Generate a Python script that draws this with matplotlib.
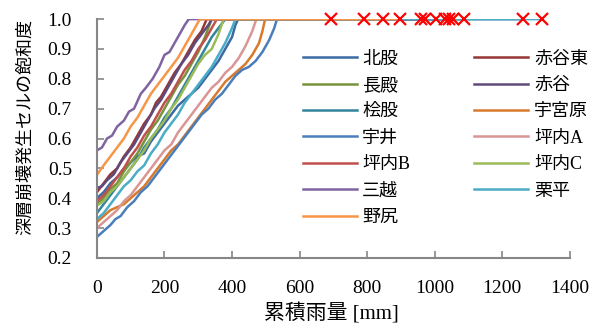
import matplotlib
matplotlib.use("Agg")
import matplotlib.pyplot as plt

plt.rcParams['font.family'] = ['Liberation Serif', 'Noto Sans CJK JP']

# series: cumulative rainfall [mm] vs saturation ratio
kitamata_x = [0, 20, 40, 60, 80, 100, 120, 140, 160, 180, 200, 220, 240, 260, 280, 300, 320, 340, 360, 380, 400, 410, 418, 1260]
kitamata_y = [0.40, 0.42, 0.45, 0.47, 0.50, 0.52, 0.54, 0.55, 0.59, 0.62, 0.65, 0.68, 0.71, 0.73, 0.75, 0.77, 0.80, 0.83, 0.86, 0.90, 0.94, 0.98, 1.0, 1.0]

akadanihigashi_x = [0, 20, 40, 60, 80, 100, 120, 140, 160, 175, 190, 210, 230, 250, 270, 290, 310, 325, 1043]
akadanihigashi_y = [0.42, 0.45, 0.48, 0.50, 0.54, 0.57, 0.61, 0.65, 0.68, 0.72, 0.74, 0.78, 0.82, 0.85, 0.89, 0.93, 0.96, 1.0, 1.0]

nagatono_x = [0, 20, 40, 60, 80, 100, 120, 140, 160, 180, 200, 220, 240, 260, 280, 300, 320, 340, 1005]
nagatono_y = [0.38, 0.40, 0.43, 0.45, 0.49, 0.52, 0.55, 0.59, 0.63, 0.66, 0.70, 0.74, 0.78, 0.81, 0.85, 0.89, 0.94, 1.0, 1.0]

akadani_x = [0, 15, 30, 50, 70, 90, 110, 130, 150, 170, 190, 210, 230, 250, 270, 290, 310, 330, 340, 960]
akadani_y = [0.434, 0.44, 0.46, 0.48, 0.52, 0.55, 0.58, 0.62, 0.66, 0.70, 0.73, 0.77, 0.81, 0.85, 0.88, 0.92, 0.95, 0.98, 1.0, 1.0]

hinokimata_x = [0, 20, 40, 60, 80, 100, 120, 140, 160, 180, 200, 220, 240, 260, 280, 300, 320, 340, 360, 380, 1088]
hinokimata_y = [0.35, 0.38, 0.41, 0.44, 0.47, 0.50, 0.53, 0.57, 0.60, 0.63, 0.67, 0.70, 0.74, 0.78, 0.82, 0.86, 0.90, 0.94, 0.97, 1.0, 1.0]

ugumihara_x = [0, 20, 40, 60, 80, 100, 120, 140, 160, 180, 200, 220, 240, 260, 280, 300, 320, 340, 360, 380, 400, 420, 440, 460, 480, 490, 498, 692]
ugumihara_y = [0.32, 0.34, 0.36, 0.37, 0.38, 0.40, 0.42, 0.44, 0.47, 0.50, 0.53, 0.56, 0.58, 0.61, 0.64, 0.67, 0.70, 0.73, 0.76, 0.79, 0.81, 0.83, 0.85, 0.88, 0.92, 0.96, 1.0, 1.0]

ui_x = [0, 20, 40, 55, 70, 90, 110, 130, 150, 170, 190, 210, 230, 250, 270, 290, 310, 330, 350, 370, 390, 410, 430, 450, 470, 490, 510, 525, 533, 1055]
ui_y = [0.27, 0.29, 0.31, 0.33, 0.34, 0.37, 0.39, 0.42, 0.44, 0.47, 0.50, 0.53, 0.56, 0.59, 0.62, 0.65, 0.68, 0.70, 0.73, 0.75, 0.78, 0.81, 0.83, 0.84, 0.86, 0.89, 0.93, 0.97, 1.0, 1.0]

tsubouchiA_x = [0, 20, 40, 60, 80, 100, 120, 140, 160, 180, 200, 220, 240, 260, 280, 300, 320, 340, 360, 380, 400, 420, 440, 460, 472, 791]
tsubouchiA_y = [0.30, 0.32, 0.34, 0.36, 0.39, 0.41, 0.44, 0.47, 0.50, 0.53, 0.56, 0.58, 0.62, 0.65, 0.68, 0.71, 0.74, 0.77, 0.79, 0.82, 0.84, 0.87, 0.91, 0.96, 1.0, 1.0]

tsubouchiB_x = [0, 20, 40, 60, 80, 100, 120, 140, 160, 180, 200, 220, 240, 260, 280, 300, 320, 340, 355, 972]
tsubouchiB_y = [0.39, 0.41, 0.44, 0.47, 0.50, 0.54, 0.57, 0.61, 0.64, 0.68, 0.72, 0.75, 0.79, 0.83, 0.86, 0.90, 0.93, 0.97, 1.0, 1.0]

tsubouchiC_x = [0, 20, 40, 60, 80, 100, 120, 140, 160, 180, 200, 220, 240, 260, 280, 300, 320, 340, 360, 375, 847]
tsubouchiC_y = [0.375, 0.39, 0.42, 0.44, 0.47, 0.50, 0.53, 0.56, 0.60, 0.63, 0.66, 0.70, 0.73, 0.77, 0.81, 0.85, 0.88, 0.90, 0.95, 1.0, 1.0]

mikoshi_x = [0, 15, 30, 45, 60, 80, 95, 110, 130, 145, 165, 185, 200, 215, 230, 245, 260, 272, 1031]
mikoshi_y = [0.56, 0.57, 0.60, 0.61, 0.64, 0.66, 0.69, 0.70, 0.75, 0.77, 0.80, 0.84, 0.88, 0.89, 0.92, 0.95, 0.98, 1.0, 1.0]

kurihira_x = [0, 20, 40, 60, 80, 100, 120, 140, 160, 180, 200, 220, 240, 260, 280, 300, 320, 340, 360, 380, 400, 410, 1317]
kurihira_y = [0.33, 0.35, 0.38, 0.41, 0.44, 0.46, 0.49, 0.51, 0.55, 0.58, 0.62, 0.65, 0.68, 0.72, 0.75, 0.78, 0.81, 0.84, 0.88, 0.92, 0.97, 1.0, 1.0]

nojiri_x = [0, 20, 40, 60, 80, 100, 120, 140, 160, 180, 200, 220, 240, 260, 280, 295, 305, 898]
nojiri_y = [0.478, 0.51, 0.54, 0.57, 0.60, 0.64, 0.67, 0.71, 0.75, 0.78, 0.81, 0.84, 0.87, 0.91, 0.95, 0.98, 1.0, 1.0]

names = ['北股', '赤谷東', '長殿', '赤谷', '桧股', '宇宮原', '宇井',
         '坪内A', '坪内B', '坪内C', '三越', '栗平', '野尻']
colors = ['#3b6ba5', '#953735', '#77933c', '#604a7b', '#31859c', '#d8792c', '#4a7ebb',
          '#d99694', '#c0504d', '#9bbb59', '#8064a2', '#4bacc6', '#f79646']
xs = [kitamata_x, akadanihigashi_x, nagatono_x, akadani_x, hinokimata_x, ugumihara_x, ui_x,
      tsubouchiA_x, tsubouchiB_x, tsubouchiC_x, mikoshi_x, kurihira_x, nojiri_x]
ys = [kitamata_y, akadanihigashi_y, nagatono_y, akadani_y, hinokimata_y, ugumihara_y, ui_y,
      tsubouchiA_y, tsubouchiB_y, tsubouchiC_y, mikoshi_y, kurihira_y, nojiri_y]

fig = plt.figure(figsize=(5.98, 3.24), dpi=100)
ax = fig.add_axes([0.162, 0.204, 0.791, 0.737])

handles = []
for x, y, n, c in zip(xs, ys, names, colors):
    h, = ax.plot(x, y, color=c, lw=1.8, label=n)
    handles.append(h)

# end points (saturation reached)
ax.plot([x[-1] for x in xs], [y[-1] for y in ys], 'x', color='red',
        ms=8, mew=1.6, zorder=5, clip_on=False)

ax.set_xlim(0, 1400)
ax.set_ylim(0.2, 1.0)
ax.set_xticks(range(0, 1401, 200))
ax.set_yticks([0.2 + 0.1 * i for i in range(9)])
ax.set_yticklabels(['%.1f' % (0.2 + 0.1 * i) for i in range(9)])
ax.tick_params(direction='in', length=5, width=1.2, color='#868686', labelsize=14)
ax.tick_params(axis='x', pad=16)
ax.tick_params(axis='y', pad=18)
for s in ['top', 'right']:
    ax.spines[s].set_visible(False)
for s in ['left', 'bottom']:
    ax.spines[s].set_color('#868686')
    ax.spines[s].set_linewidth(1.5)

ax.set_xlabel('累積雨量 [mm]', fontsize=15)
ax.xaxis.set_label_coords(0.495, -0.19)
ax.set_ylabel('深層崩壊発生セルの飽和度', fontsize=13)
ax.yaxis.set_label_coords(-0.132, 0.55)

# legend filled column-wise -> reorder so it reads row-wise
order = [0, 2, 4, 6, 8, 10, 12, 1, 3, 5, 7, 9, 11]
ax.legend(handles=[handles[i] for i in order], ncol=2, loc='upper left',
          bbox_to_anchor=(0.435, 0.868), frameon=False, fontsize=13,
          handlelength=3.0, handletextpad=0.3, columnspacing=3.55,
          labelspacing=0.52, borderpad=0, borderaxespad=0)

fig.savefig('out.png', dpi=100)
